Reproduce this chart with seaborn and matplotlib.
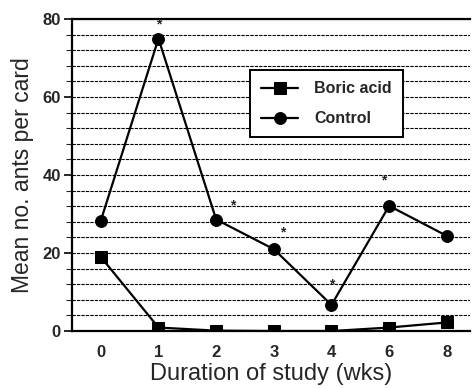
import matplotlib
matplotlib.use("Agg")
import matplotlib.pyplot as plt
import seaborn as sns
import pandas as pd

weeks = ["0", "1", "2", "3", "4", "6", "8"]
boric = [19.0, 0.9, 0.1, 0.0, 0.0, 0.9, 2.2]
control = [28.3, 75.0, 28.6, 21.0, 6.7, 32.1, 24.4]
star_pos = [1.0, 2.29, 3.15, 4.0, 4.9]
star_val = [78.7, 32.1, 25.3, 12.0, 38.5]

sns.set_style("white")
plt.rcParams["font.family"] = ["Liberation Sans", "DejaVu Sans"]

df = pd.DataFrame({"week": weeks * 2,
                   "value": boric + control,
                   "group": ["Boric acid"] * 7 + ["Control"] * 7})

fig = plt.figure(figsize=(4.72, 3.89), dpi=100)
ax = fig.add_axes([0.1525, 0.149, 0.843, 0.802])

sns.lineplot(data=df, x="week", y="value", style="group", markers={"Boric acid": "s", "Control": "o"},
             dashes=False, color="black", linewidth=1.6, markersize=8.5, ax=ax, legend=True,
             markeredgecolor="black")

for p, v in zip(star_pos, star_val):
    ax.text(p, v, "*", ha="center", va="center", fontsize=10, fontweight="bold")

ax.set_xlim(-0.5, 6.4)
ax.set_ylim(0, 80)
ax.set_yticks([0, 20, 40, 60, 80])
ax.set_yticks(range(0, 81, 4), minor=True)
ax.grid(True, axis="y", which="both", color="black", linestyle=(0, (3, 1)), linewidth=0.8)
ax.set_axisbelow(True)

ax.spines["right"].set_visible(False)
for s in ["left", "bottom", "top"]:
    ax.spines[s].set_color("black")
    ax.spines[s].set_linewidth(1.6)

ax.tick_params(axis="y", which="major", direction="out", length=6, width=1.4, labelsize=12, pad=2, left=True)
ax.tick_params(axis="y", which="minor", direction="out", length=4, width=0.8, left=True)
ax.tick_params(axis="x", length=0, labelsize=12, pad=10)
for lab in ax.get_xticklabels() + ax.get_yticklabels():
    lab.set_fontweight("bold")

ax.set_xlabel("Duration of study (wks)", fontsize=17, labelpad=2)
ax.set_ylabel("Mean no. ants per card", fontsize=16.5, labelpad=6)

leg = ax.legend(loc="upper left", bbox_to_anchor=(0.4475, 0.837), frameon=True, fancybox=False,
                edgecolor="black", fontsize=11.5, handlelength=2.3, handletextpad=1.0,
                borderpad=0.7, labelspacing=0.95, borderaxespad=0)
leg.get_frame().set_linewidth(1.4)
leg.get_frame().set_alpha(1)
for t in leg.get_texts():
    t.set_fontweight("bold")

fig.savefig("out.png", dpi=100)
